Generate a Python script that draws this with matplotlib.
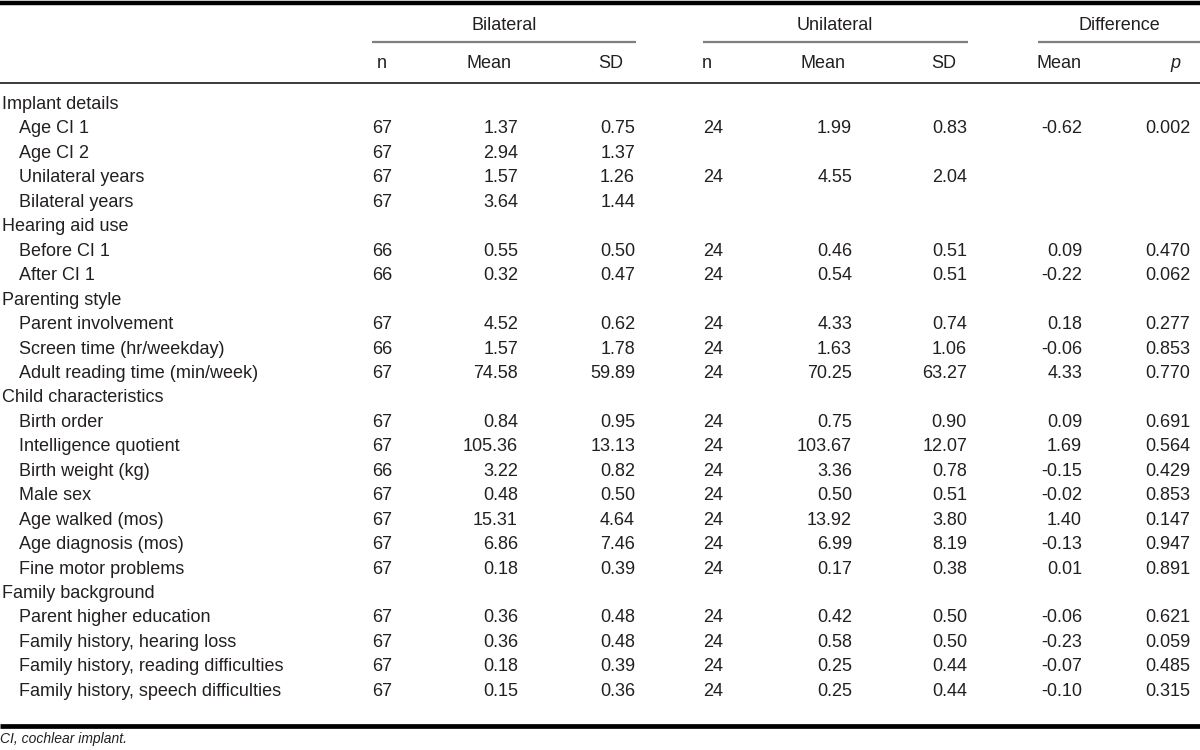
import matplotlib
matplotlib.use('Agg')
import matplotlib.pyplot as plt

plt.rcParams['font.family'] = ['Liberation Sans', 'DejaVu Sans']

# 表格数据
groups = ['Implant details', 'Hearing aid use', 'Parenting style',
          'Child characteristics', 'Family background']
items = [
    ['Age CI 1', 'Age CI 2', 'Unilateral years', 'Bilateral years'],
    ['Before CI 1', 'After CI 1'],
    ['Parent involvement', 'Screen time (hr/weekday)', 'Adult reading time (min/week)'],
    ['Birth order', 'Intelligence quotient', 'Birth weight (kg)', 'Male sex',
     'Age walked (mos)', 'Age diagnosis (mos)', 'Fine motor problems'],
    ['Parent higher education', 'Family history, hearing loss',
     'Family history, reading difficulties', 'Family history, speech difficulties'],
]

bil_n = [67, 67, 67, 67, 66, 66, 67, 66, 67, 67, 67, 66, 67, 67, 67, 67, 67, 67, 67, 67]
bil_mean = [1.37, 2.94, 1.57, 3.64, 0.55, 0.32, 4.52, 1.57, 74.58, 0.84, 105.36, 3.22,
            0.48, 15.31, 6.86, 0.18, 0.36, 0.36, 0.18, 0.15]
bil_sd = [0.75, 1.37, 1.26, 1.44, 0.50, 0.47, 0.62, 1.78, 59.89, 0.95, 13.13, 0.82,
          0.50, 4.64, 7.46, 0.39, 0.48, 0.48, 0.39, 0.36]
uni_n = [24, None, 24, None, 24, 24, 24, 24, 24, 24, 24, 24, 24, 24, 24, 24, 24, 24, 24, 24]
uni_mean = [1.99, None, 4.55, None, 0.46, 0.54, 4.33, 1.63, 70.25, 0.75, 103.67, 3.36,
            0.50, 13.92, 6.99, 0.17, 0.42, 0.58, 0.25, 0.25]
uni_sd = [0.83, None, 2.04, None, 0.51, 0.51, 0.74, 1.06, 63.27, 0.90, 12.07, 0.78,
          0.51, 3.80, 8.19, 0.38, 0.50, 0.50, 0.44, 0.44]
diff_mean = [-0.62, None, None, None, 0.09, -0.22, 0.18, -0.06, 4.33, 0.09, 1.69, -0.15,
             -0.02, 1.40, -0.13, 0.01, -0.06, -0.23, -0.07, -0.10]
diff_p = [0.002, None, None, None, 0.470, 0.062, 0.277, 0.853, 0.770, 0.691, 0.564, 0.429,
          0.853, 0.147, 0.947, 0.891, 0.621, 0.059, 0.485, 0.315]

footnote = 'CI, cochlear implant.'

fig = plt.figure(figsize=(12, 7.5), dpi=100)
ax = fig.add_axes([0, 0, 1, 1])
ax.set_xlim(0, 1200)
ax.set_ylim(750, 0)
ax.axis('off')

fs = 13
tc = '#231f20'

# 线条
ax.plot([0, 1200], [2.5, 2.5], color='black', lw=3.2, solid_capstyle='butt')
for x0, x1 in [(372, 636), (703, 968), (1038, 1200)]:
    ax.plot([x0, x1], [42, 42], color='#7f7f7f', lw=1.6, solid_capstyle='butt')
ax.plot([0, 1200], [82.5, 82.5], color='#3a3a3a', lw=1.4, solid_capstyle='butt')
ax.plot([0, 1200], [725.5, 725.5], color='black', lw=3.4, solid_capstyle='butt')

# 表头
for name, xc in [('Bilateral', 504), ('Unilateral', 835), ('Difference', 1119)]:
    ax.text(xc, 25, name, ha='center', va='center', fontsize=fs, color=tc)
sub = [('n', 377), ('Mean', 467), ('SD', 598), ('n', 702), ('Mean', 800),
       ('SD', 931), ('Mean', 1037)]
for name, x in sub:
    ax.text(x, 64, name, ha='left', va='center', fontsize=fs, color=tc)
ax.text(1170, 64, 'p', ha='left', va='center', fontsize=fs, color=tc, style='italic')


def fmt(v, d):
    if v is None:
        return ''
    return f'{v:.{d}f}'


# 表体
y0 = 104.5
dy = 24.45
row = 0
k = 0
for g, its in zip(groups, items):
    ax.text(2, y0 + row * dy, g, ha='left', va='center', fontsize=fs, color=tc)
    row += 1
    for it in its:
        y = y0 + row * dy
        ax.text(19, y, it, ha='left', va='center', fontsize=fs, color=tc)
        ax.text(372, y, str(bil_n[k]), ha='left', va='center', fontsize=fs, color=tc)
        ax.text(518, y, fmt(bil_mean[k], 2), ha='right', va='center', fontsize=fs, color=tc)
        ax.text(635, y, fmt(bil_sd[k], 2), ha='right', va='center', fontsize=fs, color=tc)
        if uni_n[k] is not None:
            ax.text(703, y, str(uni_n[k]), ha='left', va='center', fontsize=fs, color=tc)
        ax.text(852, y, fmt(uni_mean[k], 2), ha='right', va='center', fontsize=fs, color=tc)
        ax.text(967, y, fmt(uni_sd[k], 2), ha='right', va='center', fontsize=fs, color=tc)
        ax.text(1082, y, fmt(diff_mean[k], 2), ha='right', va='center', fontsize=fs, color=tc)
        ax.text(1190, y, fmt(diff_p[k], 3), ha='right', va='center', fontsize=fs, color=tc)
        row += 1
        k += 1

ax.text(0, 739, footnote, ha='left', va='center', fontsize=10, color=tc, style='italic')

fig.savefig('out.png', dpi=100)
